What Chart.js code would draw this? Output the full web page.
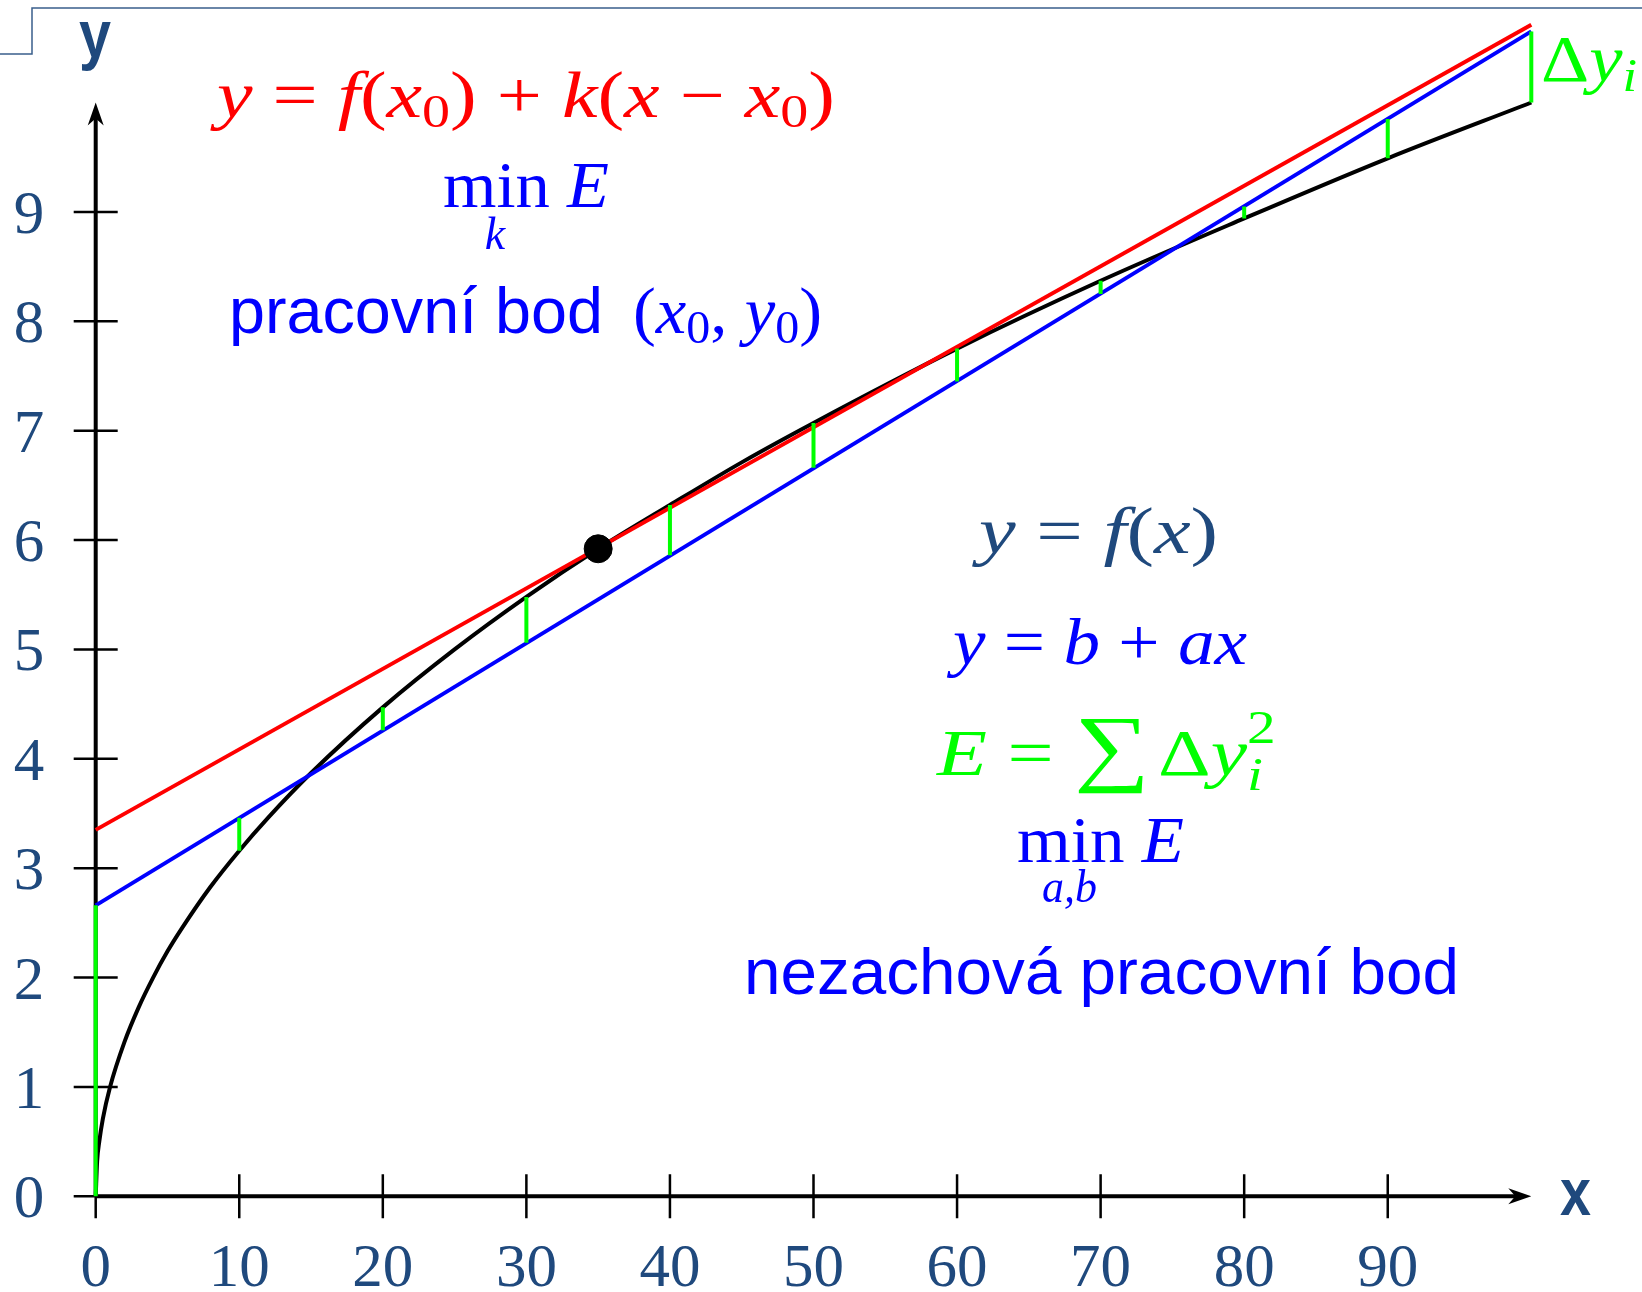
<!DOCTYPE html>
<html>
<head>
<meta charset="utf-8">
<script src="https://cdn.jsdelivr.net/npm/chart.js@4.4.1/dist/chart.umd.min.js"></script>
<style>
html, body { margin: 0; padding: 0; background: #fff; }
</style>
</head>
<body>
<canvas id="c" width="1642" height="1292"></canvas>
<script>
// y = f(x)
const curveX = [0, 0.1, 0.25, 0.5, 1, 2, 3, 4, 5, 6, 8, 10, 12, 15, 20, 25, 30, 35, 40, 45, 50, 60, 70, 80, 90, 100];
const curveY = [0, 0.32, 0.5, 0.71, 1.0, 1.41, 1.73, 2.0, 2.24, 2.45, 2.83, 3.16, 3.46, 3.87, 4.47, 5.0, 5.48, 5.92, 6.32, 6.71, 7.07, 7.75, 8.37, 8.94, 9.49, 10.0];
// tangent in working point (red) and least squares line (blue)
const tangentX = [0, 100];
const tangentY = [3.35, 10.71];
const fitX = [0, 100];
const fitY = [2.66, 10.65];
// residuals dy_i (green): from curve to fitted line
const residX = [0, 10, 20, 30, 40, 50, 60, 70, 80, 90, 100];
const residCurve = [0, 3.16, 4.47, 5.48, 6.32, 7.07, 7.75, 8.37, 8.94, 9.49, 10.0];
const residFit = [2.66, 3.46, 4.26, 5.06, 5.86, 6.66, 7.45, 8.25, 9.05, 9.85, 10.65];
// working point (x0, y0)
const workX = [35];
const workY = [5.92];
// axes
const xTicks = [0, 10, 20, 30, 40, 50, 60, 70, 80, 90];
const yTicks = [0, 1, 2, 3, 4, 5, 6, 7, 8, 9];
const X_MAX = 100, Y_MAX = 10.8, Y_ARROW = 10;

const NAVY = '#1f497d', RED = '#ff0000', BLUE = '#0000ff', GREEN = '#00ff00';
const SERIF = '"Liberation Serif", "DejaVu Serif", serif';
const SANS = '"Liberation Sans", Arial, sans-serif';

const pts = (xs, ys) => xs.map((x, i) => ({ x, y: ys[i] }));
const residPts = residX.flatMap((x, i) => [{ x, y: residCurve[i] }, { x, y: residFit[i] }, { x, y: null }]);

// text runs: segments {t, i: italic, k: size factor, dy: shift in em, stack: no advance, sans, b}
const segFont = (s, size) => (s.i ? 'italic ' : '') + (s.b ? 'bold ' : '') + (size * (s.k || 1)) + 'px ' + (s.sans ? SANS : SERIF);
function drawRun(ctx, segs, left, right, base, size, color) {
  ctx.save();
  ctx.fillStyle = color;
  ctx.textAlign = 'left';
  ctx.textBaseline = 'alphabetic';
  let w = 0;
  segs.forEach(s => { ctx.font = segFont(s, size); s.w = ctx.measureText(s.t).width; if (!s.stack) w += s.w; });
  ctx.translate(left, base);
  ctx.scale((right - left) / w, 1);
  let x = 0;
  segs.forEach(s => {
    ctx.font = segFont(s, size);
    ctx.fillText(s.t, x, (s.dy || 0) * size);
    if (!s.stack) x += s.w;
  });
  ctx.restore();
}
function drawCenter(ctx, text, cx, base, font, color) {
  ctx.save();
  ctx.fillStyle = color; ctx.font = font;
  ctx.textAlign = 'center'; ctx.textBaseline = 'alphabetic';
  ctx.fillText(text, cx, base);
  ctx.restore();
}
const sub = t => ({ t, k: 0.7, dy: 0.15 });

const axesPlugin = {
  id: 'axes',
  beforeDatasetsDraw(chart) {
    const { ctx, scales: { x, y } } = chart;
    const x0 = x.getPixelForValue(0), y0 = y.getPixelForValue(0);
    const xEnd = x.getPixelForValue(X_MAX), yEnd = y.getPixelForValue(Y_ARROW);
    ctx.save();
    // window frame
    ctx.strokeStyle = '#3a5f8c'; ctx.lineWidth = 1.5;
    ctx.beginPath();
    ctx.moveTo(0, 54); ctx.lineTo(32, 54); ctx.lineTo(32, 8); ctx.lineTo(1642, 8);
    ctx.stroke();
    // ticks
    ctx.strokeStyle = '#000'; ctx.lineWidth = 2.5;
    ctx.beginPath();
    xTicks.forEach(v => { const px = x.getPixelForValue(v); ctx.moveTo(px, y0 - 22); ctx.lineTo(px, y0 + 22); });
    yTicks.forEach(v => { const py = y.getPixelForValue(v); ctx.moveTo(x0 - 22, py); ctx.lineTo(x0 + 22, py); });
    ctx.stroke();
    // axis lines
    ctx.lineWidth = 4;
    ctx.beginPath();
    ctx.moveTo(x0, y0); ctx.lineTo(xEnd - 8, y0);
    ctx.moveTo(x0, y0); ctx.lineTo(x0, yEnd + 8);
    ctx.stroke();
    // arrow heads
    ctx.fillStyle = '#000';
    ctx.beginPath();
    ctx.moveTo(xEnd, y0); ctx.lineTo(xEnd - 23, y0 - 8); ctx.lineTo(xEnd - 16, y0); ctx.lineTo(xEnd - 23, y0 + 8); ctx.closePath();
    ctx.moveTo(x0, yEnd); ctx.lineTo(x0 - 8, yEnd + 23); ctx.lineTo(x0, yEnd + 16); ctx.lineTo(x0 + 8, yEnd + 23); ctx.closePath();
    ctx.fill();
    // tick labels
    const f = '61px ' + SERIF;
    xTicks.forEach(v => drawCenter(ctx, String(v), x.getPixelForValue(v), 1286, f, NAVY));
    yTicks.forEach(v => drawCenter(ctx, String(v), 29, y.getPixelForValue(v) + 21, f, NAVY));
    // axis names
    drawRun(ctx, [{ t: 'y', sans: 1, b: 1 }], 79, 111, 57, 66, NAVY);
    drawRun(ctx, [{ t: 'x', sans: 1, b: 1 }], 1560, 1591, 1215, 66, NAVY);
    ctx.restore();
  },
  afterDraw(chart) {
    const { ctx } = chart;
    drawRun(ctx, [{ t: 'y', i: 1 }, { t: ' = ' }, { t: 'f', i: 1 }, { t: '(' }, { t: 'x', i: 1 }, sub('0'), { t: ') + ' },
      { t: 'k', i: 1 }, { t: '(' }, { t: 'x', i: 1 }, { t: ' \u2212 ' }, { t: 'x', i: 1 }, sub('0'), { t: ')' }], 217, 835, 117, 66, RED);
    drawRun(ctx, [{ t: 'min ' }, { t: 'E', i: 1 }], 443, 609, 207, 66, BLUE);
    drawCenter(ctx, 'k', 495, 249, 'italic 46px ' + SERIF, BLUE);
    drawRun(ctx, [{ t: 'pracovní bod', sans: 1 }], 229, 603, 333, 65, BLUE);
    drawRun(ctx, [{ t: '(' }, { t: 'x', i: 1 }, sub('0'), { t: ', ' }, { t: 'y', i: 1 }, sub('0'), { t: ')' }], 633, 822, 333, 66, BLUE);
    drawRun(ctx, [{ t: 'y', i: 1 }, { t: ' = ' }, { t: 'f', i: 1 }, { t: '(' }, { t: 'x', i: 1 }, { t: ')' }], 979, 1218, 553, 66, NAVY);
    drawRun(ctx, [{ t: 'y', i: 1 }, { t: ' = ' }, { t: 'b', i: 1 }, { t: ' + ' }, { t: 'ax', i: 1 }], 953, 1247, 664, 66, BLUE);
    drawRun(ctx, [{ t: 'E', i: 1 }, { t: ' = ' }, { t: '\u2211', k: 1.3, dy: 0.0 }, { t: ' ', k: 0.4 }, { t: '\u0394' }, { t: 'y', i: 1 },
      { t: '2', k: 0.7, dy: -0.48, stack: 1 }, { t: 'i', i: 1, k: 0.7, dy: 0.22 }], 937, 1263, 775, 66, GREEN);
    drawRun(ctx, [{ t: 'min ' }, { t: 'E', i: 1 }], 1017, 1184, 862, 66, BLUE);
    drawRun(ctx, [{ t: 'a,b', i: 1 }], 1042, 1097, 902, 46, BLUE);
    drawRun(ctx, [{ t: 'nezachová pracovní bod', sans: 1 }], 744, 1459, 994, 65, BLUE);
    drawRun(ctx, [{ t: '\u0394' }, { t: 'y', i: 1 }, { t: 'i', i: 1, k: 0.7, dy: 0.15 }], 1541, 1637, 81, 66, GREEN);
  }
};

const line = (data, color, order, extra) => Object.assign({
  data, borderColor: color, backgroundColor: color, borderWidth: 4,
  showLine: true, pointRadius: 0, clip: false, order
}, extra || {});

new Chart(document.getElementById('c'), {
  type: 'scatter',
  data: {
    datasets: [
      { data: pts(workX, workY), backgroundColor: '#000', borderColor: '#000', pointRadius: 14, order: 0, clip: false },
      line(residPts, GREEN, 1, { spanGaps: false }),
      line(pts(fitX, fitY), BLUE, 2),
      line(pts(tangentX, tangentY), RED, 3),
      line(pts(curveX, curveY), '#000', 4, { cubicInterpolationMode: 'monotone' })
    ]
  },
  options: {
    responsive: false, animation: false, devicePixelRatio: 1,
    layout: { padding: { left: 95.7, right: 110.7, top: 11.5, bottom: 95.7 } },
    plugins: { legend: { display: false }, tooltip: { enabled: false } },
    scales: {
      x: { type: 'linear', min: 0, max: X_MAX, display: false },
      y: { type: 'linear', min: 0, max: Y_MAX, display: false }
    }
  },
  plugins: [axesPlugin]
});
</script>
</body>
</html>
